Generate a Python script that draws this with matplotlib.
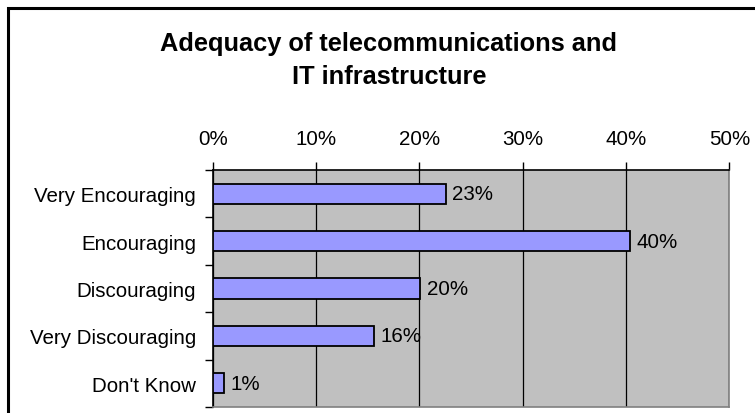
import matplotlib
matplotlib.use('Agg')
import matplotlib.pyplot as plt
from matplotlib.patches import Rectangle
from matplotlib.ticker import FuncFormatter

plt.rcParams['font.family'] = ['Liberation Sans', 'DejaVu Sans']

# data
categories = ['Very Encouraging', 'Encouraging', 'Discouraging',
              'Very Discouraging', "Don't Know"]
values = [22.6, 40.4, 20.1, 15.6, 1.1]
ticks = [0, 10, 20, 30, 40, 50]

W, H = 755, 414
fig = plt.figure(figsize=(W / 100, H / 100), dpi=100)
fig.patch.set_facecolor('white')

# outer chart frame (runs off the right and bottom edges)
fig.patches.append(Rectangle((8 / W, -0.1), 1.2, 1 - 9 / H + 0.1,
                             transform=fig.transFigure, fill=False,
                             edgecolor='black', linewidth=2.2))

fig.text(389 / W, 1 - 32 / H, 'Adequacy of telecommunications and\nIT infrastructure',
         ha='center', va='top', fontsize=18.3, fontweight='bold', linespacing=1.5)

left, right = 212.7 / W, 729.3 / W
top, bottom = 1 - 171 / H, 1 - 408 / H
ax = fig.add_axes([left, bottom, right - left, top - bottom])
ax.set_facecolor('#C0C0C0')

pos = list(range(len(categories)))
ax.barh(pos, values, height=0.43, color='#9999FF', edgecolor='black',
        linewidth=1.3, zorder=3)
for p, v in zip(pos, values):
    ax.text(v + 0.6, p, f'{v:.0f}%', va='center', ha='left', fontsize=14.8, zorder=4)

ax.set_xlim(0, 50)
ax.set_ylim(len(categories) - 0.5, -0.5)
ax.set_xticks(ticks)
ax.xaxis.set_major_formatter(FuncFormatter(lambda x, _: f'{x:.0f}%'))
ax.xaxis.tick_top()
ax.tick_params(axis='x', length=6, width=1, pad=9.5, labelsize=14.8, direction='out')
ax.grid(axis='x', color='black', linewidth=0.9, zorder=1)

ax.set_yticks([p + 0.5 for p in pos[:-1]] + [-0.5, len(categories) - 0.5], minor=False)
ax.set_yticklabels([''] * (len(categories) + 1))
ax.set_yticks(pos, minor=True)
ax.set_yticklabels(categories, minor=True)
ax.tick_params(axis='y', which='major', length=6, width=1, direction='out')
ax.tick_params(axis='y', which='minor', length=0, pad=12, labelsize=14.8)

ax.spines['left'].set_color('black')
ax.spines['top'].set_color('black')
ax.spines['right'].set_color('#808080')
ax.spines['bottom'].set_color('#808080')
for s in ax.spines.values():
    s.set_linewidth(1.2)
ax.set_axisbelow(True)

plt.savefig('out.png', dpi=100)
